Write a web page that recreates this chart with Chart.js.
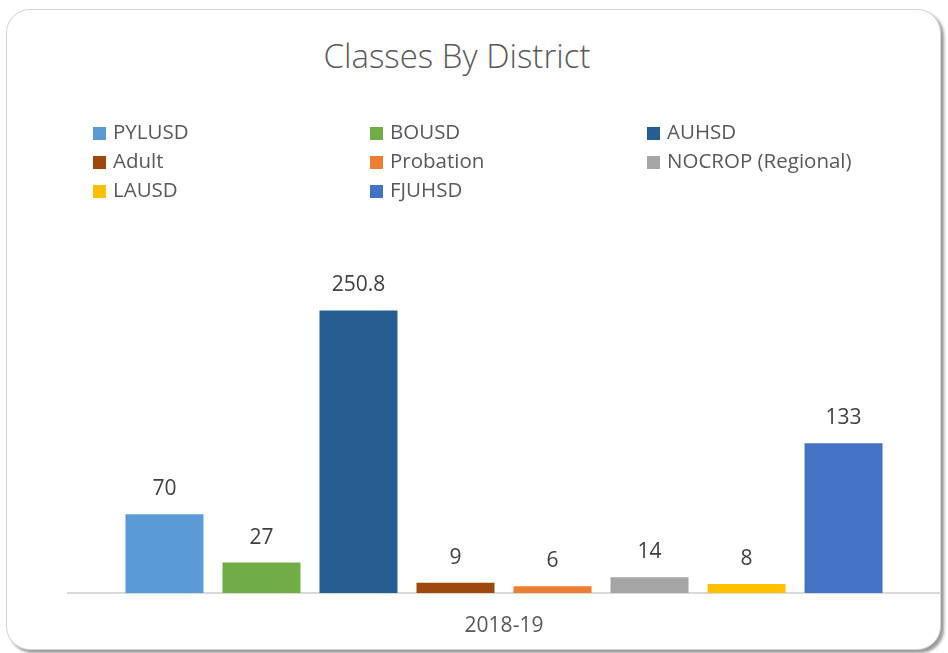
<!DOCTYPE html>
<html>
<head>
<meta charset="utf-8">
<script src="https://cdn.jsdelivr.net/npm/chart.js@4/dist/chart.umd.min.js"></script>
<style>
  html, body { margin: 0; padding: 0; background: #fff; }
  body { width: 948px; height: 653px; position: relative; overflow: hidden; font-family: "Open Sans", sans-serif; }
  .card {
    position: absolute; left: 6px; top: 9px; width: 933px; height: 639px;
    border: 1px solid #d4d4d4; border-radius: 24px; background: #fff;
    box-shadow: 3px 3px 3px rgba(0,0,0,0.4);
  }
  #wrap { position: absolute; left: 0; top: 0; width: 948px; height: 653px; }
  .title { position: absolute; left: 257px; width: 400px; top: 36px; text-align: center;
    color: #595959; font-size: 33px; font-weight: 300; line-height: 40px; white-space: nowrap; }
  .legend { position: absolute; left: 0; top: 0; }
  .item { position: absolute; color: #595959; font-size: 20.5px; white-space: nowrap; line-height: 20px; }
  .item span.box { display: inline-block; width: 13px; height: 13px; margin-right: 7px; vertical-align: -1px; }
</style>
</head>
<body>
<div class="card"></div>
<div class="title">Classes By District</div>
<div id="wrap"><canvas id="myChart" width="948" height="653"></canvas></div>
<div class="legend" id="legend"></div>
<script>
var categories = ["2018-19"]
var districts = ["PYLUSD", "BOUSD", "AUHSD", "Adult", "Probation", "NOCROP (Regional)", "LAUSD", "FJUHSD"]
var classes = [70, 27, 250.8, 9, 6, 14, 8, 133]
var colors = ["#5B9BD5", "#70AD47", "#255E91", "#9E480E", "#ED7D31", "#A5A5A5", "#FFC000", "#4472C4"]

// html legend, 3 columns like the excel one
var legend = document.getElementById("legend")
districts.forEach(function(name, i){
    var el = document.createElement("div")
    el.className = "item"
    el.style.left = (93 + (i % 3) * 277) + "px"
    el.style.top = (121 + Math.floor(i / 3) * 29) + "px"
    el.innerHTML = '<span class="box" style="background:' + colors[i] + '"></span>' + name
    legend.appendChild(el)
})

var valueLabels = {
    id: "valueLabels",
    afterDatasetsDraw: function(chart){
        var ctx = chart.ctx
        ctx.save()
        ctx.fillStyle = "#404040"
        ctx.font = "21px 'Open Sans'"
        ctx.textAlign = "center"
        ctx.textBaseline = "middle"
        chart.data.datasets.forEach(function(ds, i){
            chart.getDatasetMeta(i).data.forEach(function(bar, j){
                ctx.fillText(ds.data[j], bar.x, bar.y - 25)
            })
        })
        ctx.restore()
    }
}

var datasets = districts.map(function(name, i){
    return {
        label: name,
        data: [classes[i]],
        backgroundColor: colors[i],
        categoryPercentage: 0.89,
        barPercentage: 0.804
    }
})

var chart = new Chart(document.getElementById("myChart").getContext("2d"), {
    type: "bar",
    data: { labels: categories, datasets: datasets },
    plugins: [valueLabels],
    options: {
        responsive: false,
        animation: false,
        layout: { padding: { left: 68, right: 8, top: 255, bottom: 0 } },
        plugins: {
            legend: { display: false },
            tooltip: { enabled: false }
        },
        scales: {
            x: {
                grid: { display: false, drawTicks: false },
                border: { display: true, color: "#d9d9d9", width: 2 },
                ticks: { color: "#595959", font: { family: "Open Sans", size: 21 }, padding: 20 },
                afterFit: function(scale){ scale.height = 60 }
            },
            y: { display: false, min: 0, max: 300 }
        }
    }
})
</script>
</body>
</html>
